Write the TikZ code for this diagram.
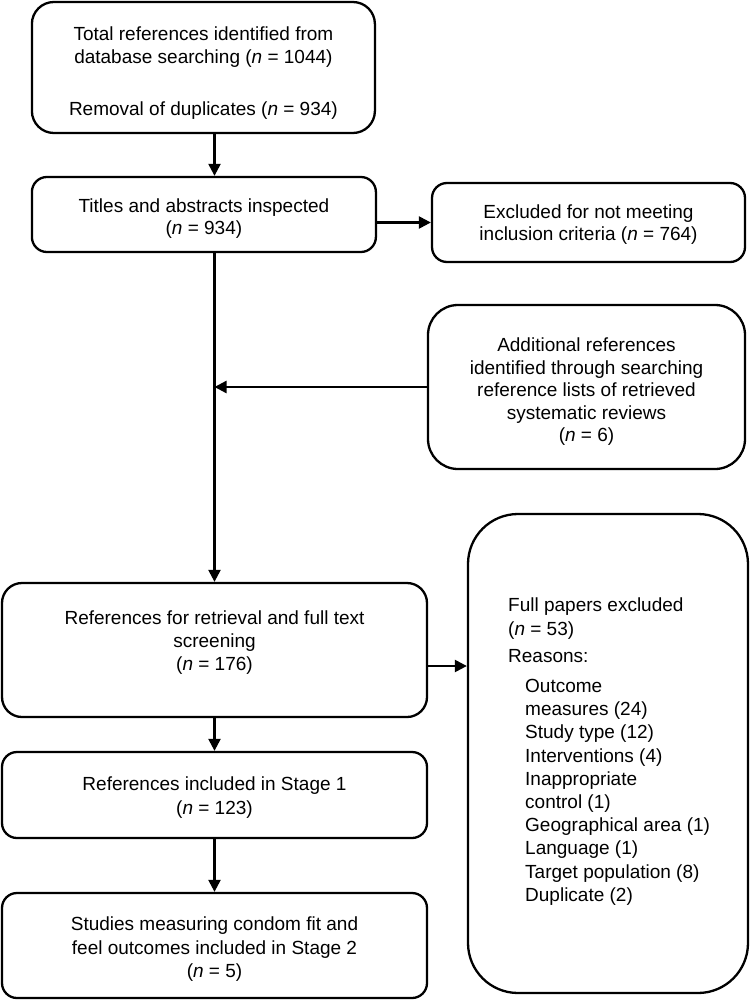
\documentclass[tikz,border=0pt]{standalone}
\usepackage{fontspec}
\setmainfont{Liberation Sans}
\usetikzlibrary{arrows.meta,calc}
\begin{document}
\begin{tikzpicture}[x=1pt,y=-1pt,
  box/.style={draw, line width=2.3pt, rounded corners=#1, inner sep=0pt},
  box/.default=15pt,
  txt/.style={inner sep=0pt, align=center, font=\fontsize{19}{22.5}\selectfont},
  arr/.style={line width=2.3pt, -{Triangle[length=12pt,width=12pt]}}]
\useasboundingbox (0,0) rectangle (750,1000);
\fill[white] (0,0) rectangle (750,1000);

\node[box=22pt, minimum width=343pt, minimum height=131pt] (b1) at (203.4,67.5) {};
\node[txt] (b1t) at ([yshift=-6pt]b1.center)
  {Total references identified from\\database searching (\textit{n} = 1044)\\[30pt]Removal of duplicates (\textit{n} = 934)};
\node[box, minimum width=344pt, minimum height=75pt] (b2) at (203.9,214.5) {};
\node[txt] (b2t) at ([yshift=-4pt]b2.center)
  {Titles and abstracts inspected\\(\textit{n} = 934)};
\node[box, minimum width=313pt, minimum height=79pt] (excl) at (588.5,222.5) {};
\node[txt] (exclt) at ([yshift=-2pt]excl.center)
  {Excluded for not meeting\\inclusion criteria (\textit{n} = 764)};
\node[box=30pt, minimum width=317pt, minimum height=164pt] (add) at (586.5,387) {};
\node[txt] (addt) at ([yshift=-5pt]add.center)
  {Additional references\\identified through searching\\reference lists of retrieved\\systematic reviews\\(\textit{n} = 6)};
\node[box=20pt, minimum width=425pt, minimum height=134pt] (refs) at (214.5,650) {};
\node[txt, font=\fontsize{19}{23}\selectfont] (refst) at ([yshift=7pt]refs.center)
  {References for retrieval and full text\\screening\\(\textit{n} = 176)};
\node[box, minimum width=425pt, minimum height=86pt] (s1) at (214.5,795) {};
\node[txt, font=\fontsize{19}{24}\selectfont] (s1t) at ([yshift=-3pt]s1.center)
  {References included in Stage 1\\(\textit{n} = 123)};
\node[box, minimum width=425pt, minimum height=105pt] (s2) at (214.5,945.5) {};
\node[txt, font=\fontsize{19}{23.5}\selectfont] (s2t) at ([yshift=-4pt]s2.center)
  {Studies measuring condom fit and\\feel outcomes included in Stage 2\\(\textit{n} = 5)};
\node[box=50pt, minimum width=280pt, minimum height=479pt] (full) at (608,753.5) {};
\node[inner sep=0pt, align=left, anchor=north west, font=\fontsize{19}{23.2}\selectfont] (fullt) at (508,598)
  {Full papers excluded\\(\textit{n} = 53)\\[4pt]Reasons:\\[7pt]
   \hspace*{17pt}Outcome\\
   \hspace*{17pt}measures (24)\\
   \hspace*{17pt}Study type (12)\\
   \hspace*{17pt}Interventions (4)\\
   \hspace*{17pt}Inappropriate\\
   \hspace*{17pt}control (1)\\
   \hspace*{17pt}Geographical area (1)\\
   \hspace*{17pt}Language (1)\\
   \hspace*{17pt}Target population (8)\\
   \hspace*{17pt}Duplicate (2)};

\coordinate (j) at (refs.north |- add.west);
\draw[arr] (b1.south -| refs.north) -- (b2.north -| refs.north);
\draw[arr] (excl.west -| b2.east) -- (excl.west);
\draw[arr] (b2.south -| refs.north) -- (refs.north);
\draw[arr] (add.west) -- (j);
\draw[arr] ([yshift=-16pt]refs.east) -- ([yshift=-16pt]refs.east -| full.west);
\draw[arr] (refs.south) -- (s1.north);
\draw[arr] (s1.south) -- (s2.north);
\end{tikzpicture}
\end{document}
